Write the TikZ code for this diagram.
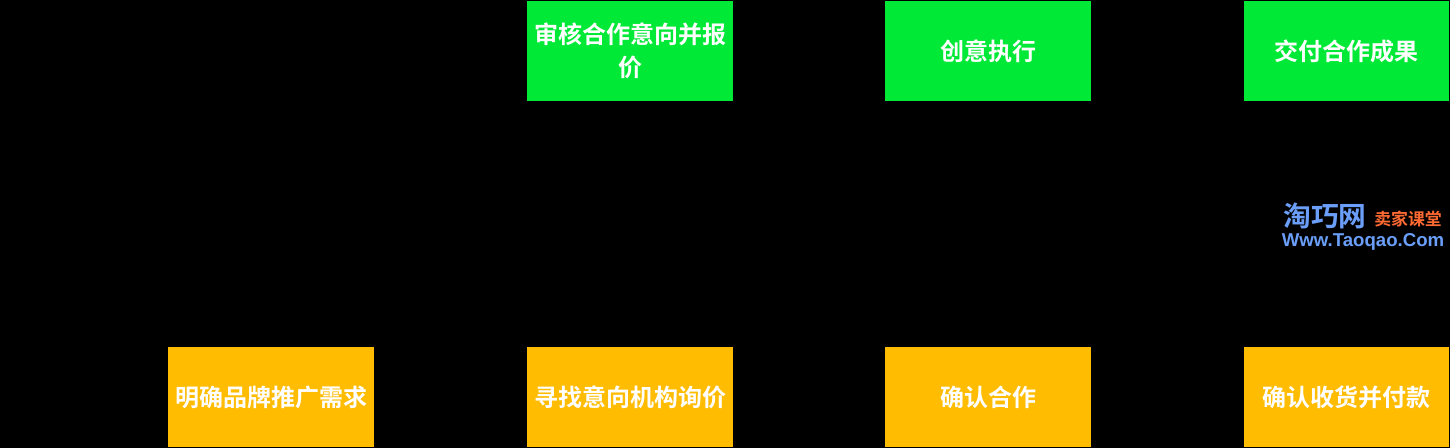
\documentclass[tikz,border=0pt]{standalone}
\usepackage{fontspec}
\usepackage{xcolor}
\usepackage{tikz}
\usetikzlibrary{positioning}
\newfontfamily\cjk{Noto Sans CJK SC}[BoldFont={* Bold}]
\setsansfont{Liberation Sans}
\definecolor{stepgreen}{HTML}{00E936}
\definecolor{stepamber}{HTML}{FFBC00}
\definecolor{markblue}{HTML}{6A9EF8}
\definecolor{markorange}{HTML}{FF6A33}

\begin{document}
\begin{tikzpicture}[x=0.02cm,y=-0.02cm,
    stage/.style={rectangle, minimum width=4.12cm, minimum height=2cm, inner sep=0pt, text width=3.9cm, align=center, text=white, font=\fontsize{13.66pt}{18.8pt}\selectfont\cjk\bfseries},
    seller/.style={stage, fill=stepgreen},
    buyer/.style={stage, fill=stepamber},
    logo/.style={inner sep=0pt}
]
    % Canvas
    \fill[black] (0,0) rectangle (1450,448);
    \useasboundingbox (0,0) rectangle (1450,448);

    % Seller row
    \node[seller] (quote) at (630,51) {审核合作意向并报\\价};
    \node[seller] (execute) at (988,51) {创意执行};
    \node[seller] (deliver) at (1346.5,51) {交付合作成果};

    % Buyer row
    \node[buyer] (demand) at (271,397) {明确品牌推广需求};
    \node[buyer] (inquire) at (630,397) {寻找意向机构询价};
    \node[buyer] (confirm) at (988,397) {确认合作};
    \node[buyer] (payment) at (1346.5,397) {确认收货并付款};

    % Watermark
    \node[logo, text=markblue, font=\fontsize{15.8pt}{16pt}\selectfont\cjk\bfseries] (brand) at (1325,216) {淘巧网};
    \node[logo, text=markorange, font=\fontsize{9.6pt}{10pt}\selectfont\cjk\bfseries] (course) at (1408,219) {卖家课堂};
    \node[logo, text=markblue, font=\fontsize{10.6pt}{11pt}\selectfont\sffamily\bfseries] (site) at (1363,242) {Www.Taoqao.Com};
\end{tikzpicture}
\end{document}
